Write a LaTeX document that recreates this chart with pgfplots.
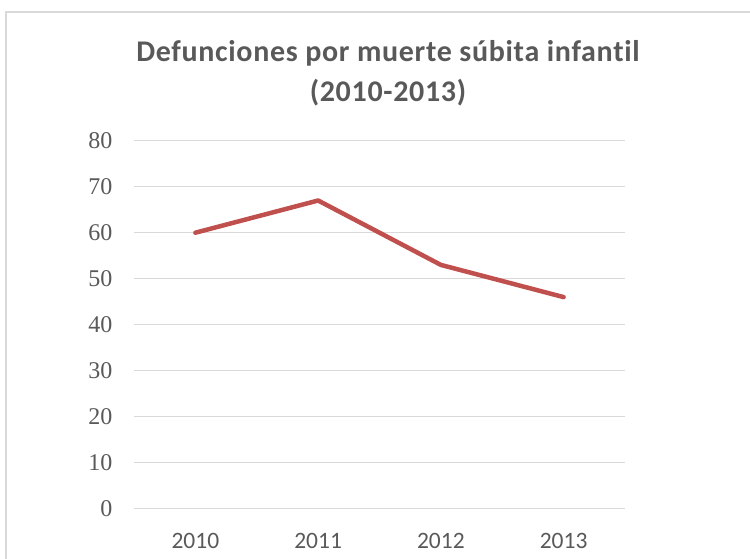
\documentclass[border=0pt]{standalone}
\usepackage{pgfplots}
\pgfplotsset{compat=1.18}
\usepackage{fontspec}
\setmainfont{Carlito}[RawFeature=-liga]
\newfontfamily\titlefont{Carlito}[RawFeature=-liga, LetterSpace=2.3]
\newfontfamily\serifnum{Liberation Serif}
\definecolor{txtgray}{HTML}{595959}
\definecolor{gridgray}{HTML}{D9D9D9}
\definecolor{exred}{HTML}{C0504D}
\begin{document}
\begin{tikzpicture}[x=1pt,y=1pt]
\useasboundingbox (0,0) rectangle (750,558);
\begin{scope}
\clip (0,0) rectangle (750,558);
\draw[gridgray, line width=1.5pt] (6,-20) rectangle (780,546);
\end{scope}
\node[text=txtgray, font=\fontsize{30}{40}\selectfont\titlefont\bfseries, align=center] at (388,485) {Defunciones por muerte súbita infantil\\(2010-2013)};
\begin{axis}[
  at={(134pt,49.3pt)}, anchor=south west,
  width=491pt, height=368pt, scale only axis,
  xmin=-0.5, xmax=3.5, ymin=0, ymax=80,
  xtick={0,1,2,3}, xticklabels={2010,2011,2012,2013},
  ytick={0,10,...,80},
  axis line style={draw=none}, major tick style={draw=none},
  ymajorgrids, grid style={gridgray, line width=1.5pt},
  tick label style={text=txtgray},
  xticklabel style={font=\fontsize{23.5}{27}\selectfont, yshift=-21pt},
  yticklabel style={font=\fontsize{24}{28}\selectfont\serifnum, xshift=-18pt},
  /pgf/number format/assume math mode=true,
  clip=false,
]
\addplot[exred, line width=4.5pt, line cap=round, line join=round, mark=none] coordinates {(0,60) (1,67) (2,53) (3,46)};
\end{axis}
\end{tikzpicture}
\end{document}
